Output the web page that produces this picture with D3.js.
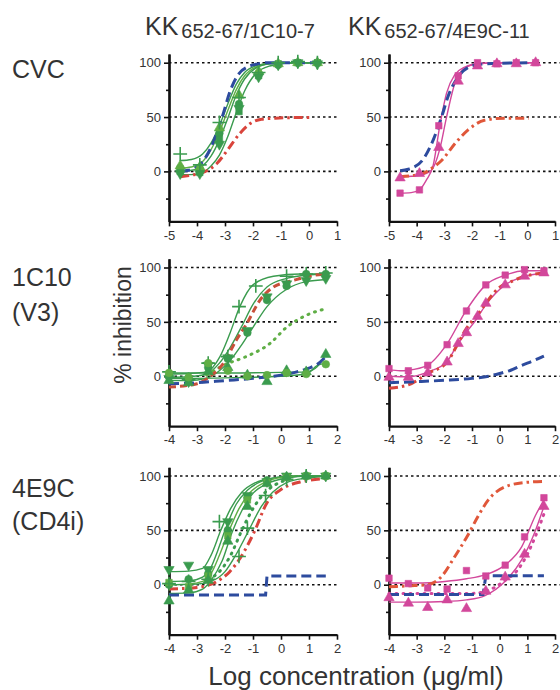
<!DOCTYPE html>
<html>
<head>
<meta charset="utf-8">
<script src="https://cdn.jsdelivr.net/npm/d3@7"></script>
<style>
  body { margin: 0; background: #fff; }
  svg text { font-family: "Liberation Sans", Arial, sans-serif; fill: #333; }
</style>
</head>
<body>
<div id="d3-container"></div>
<script>
/* CONSTANTS AND GLOBALS */
const width = 560,
  height = 690,
  colX = [[169, 337], [389, 555]],
  rowTop = [54, 258.8, 467.3],
  panelH = 167.4;

const blue = "#2d4b9e",
  red = "#d9443c",
  green = "#3a9b4e",
  lime = "#5fae45",
  magenta = "#d2479b";

/* TEXT AND TICKS */
const colTitleMain = ["KK", "KK"];
const colTitleSub = ["652-67/1C10-7", "652-67/4E9C-11"];
const rowLabels = [["CVC"], ["1C10", "(V3)"], ["4E9C", "(CD4i)"]];
const yAxisLabel = "% inhibition";
const xAxisLabel = "Log concentration (μg/ml)";
const xDomains = [[-5, 1], [-4, 2], [-4, 2]];
const xTicksRow1 = [-5, -4, -3, -2, -1, 0, 1];
const xTicksRow23 = [-4, -3, -2, -1, 0, 1, 2];
const yDomain = [-46, 108];
const yTicks = [100, 50, 0];
const yMinorTicks = [75, 25, -25];

/* DATA: CVC, KK652-67/1C10-7 */
const p1Blue = [[-4.6,0],[-4.3,1],[-3.9,6],[-3.5,22],[-3.1,50],[-2.8,75],[-2.5,90],[-2.2,96],[-1.9,98.5],[-1.5,100],[0.3,100]];
const p1Red = [[-4.6,-5],[-4.2,-3.5],[-3.7,0],[-3.3,7],[-2.9,20],[-2.5,34],[-2.1,44],[-1.7,48],[-1.2,49],[-0.5,49.5],[0.1,49.5]];
const p1Fit1 = [[-4.6,10],[-4.2,11],[-3.8,16],[-3.5,26],[-3.2,42],[-2.9,62],[-2.6,80],[-2.3,91],[-1.9,97],[-1.4,99.5],[-0.6,100],[0.3,100]];
const p1Fit2 = [[-4.6,3],[-4.2,4],[-3.8,9],[-3.5,20],[-3.2,36],[-2.9,56],[-2.6,75],[-2.3,88],[-1.9,96],[-1.4,99],[-0.6,100],[0.3,100]];
const p1Fit3 = [[-4.6,0],[-4.2,1],[-3.8,5],[-3.5,14],[-3.2,29],[-2.9,49],[-2.6,70],[-2.3,85],[-1.9,95],[-1.4,99],[-0.6,100],[0.3,100]];
const p1Fit4 = [[-4.6,-3],[-4.2,-3],[-3.8,-1],[-3.5,5],[-3.2,15],[-2.9,32],[-2.6,54],[-2.3,74],[-1.9,90],[-1.4,97],[-0.6,100],[0.3,100]];
const p1MarkCircle = [[-4.6,3],[-3.9,2],[-3.2,35],[-2.5,62],[-1.8,90],[-1.1,98],[-0.4,100],[0.3,100]];
const p1MarkSquare = [[-4.6,0],[-3.9,-1],[-3.2,30],[-2.5,55],[-1.8,88],[-1.1,99],[-0.4,100],[0.3,100]];
const p1MarkTri = [[-4.6,5],[-3.9,4],[-3.2,40],[-2.5,70],[-1.8,92],[-1.1,99],[-0.4,100],[0.3,100]];
const p1MarkPlus = [[-4.6,16],[-3.9,6],[-3.2,45],[-2.5,68],[-1.8,91],[-1.1,100],[-0.4,101],[0.3,100]];
const p1MarkInv = [[-4.6,-2],[-3.9,-2],[-3.2,25],[-2.5,58],[-1.8,87],[-1.1,98],[-0.4,100],[0.3,99]];

/* DATA: CVC, KK652-67/4E9C-11 */
const p2Blue = [[-4.6,0.5],[-4.3,2],[-3.8,10],[-3.4,29],[-3.1,50],[-2.85,70],[-2.5,87],[-2.0,97],[-1.5,99],[0.3,100]];
const p2Red = [[-4.6,-5],[-3.8,-2],[-3.45,3],[-3.1,10],[-2.6,26],[-2.15,38],[-1.55,47],[-0.8,49],[0.05,49]];
const p2FitA = [[-4.6,-20],[-4.2,-19.5],[-3.9,-17],[-3.65,-8],[-3.4,6],[-3.17,41],[-2.92,72],[-2.62,89],[-2.26,96],[-1.8,99],[-1.0,100],[0.3,100]];
const p2FitB = [[-4.6,-5],[-3.85,-3.5],[-3.47,1],[-3.17,20],[-2.92,50],[-2.62,81],[-2.26,95],[-1.8,99],[-1.0,100],[0.3,100]];
const p2MarkSquare = [[-4.6,-20],[-3.9,-17],[-3.2,42],[-2.5,88],[-1.8,100],[-1.1,99],[-0.4,100],[0.3,100]];
const p2MarkTri = [[-4.6,-6],[-3.9,-2],[-3.2,22],[-2.5,83],[-1.8,97],[-1.1,99],[-0.4,99],[0.3,100]];

/* DATA: 1C10 (V3), KK652-67/1C10-7 */
const p3Blue = [[-4,-7],[-3,-6],[-2,-4],[-1,-2],[0,1],[0.5,3.5],[1,7.5],[1.3,11],[1.6,18]];
const p3Red = [[-4,-10],[-3,-7],[-2.55,-0.5],[-2.05,12],[-1.6,33],[-1.23,48],[-0.75,70],[-0.27,82],[0.44,88],[1.0,92],[1.6,94]];
const p3Dotted = [[-2.65,1],[-2.05,10],[-1.25,18],[-0.4,30],[0.2,45],[0.9,56],[1.6,62]];
const p3Fit1 = [[-4,2],[-3.3,2.5],[-2.66,4],[-2.18,18],[-1.83,39],[-1.47,64],[-1.0,84],[-0.27,92],[0.68,94],[1.64,94]];
const p3Fit2 = [[-4,-1],[-3.3,-0.5],[-2.66,2],[-2.2,12],[-1.8,27],[-1.4,46],[-1.0,66],[-0.5,82],[0.2,90],[0.9,93],[1.64,94]];
const p3Fit3 = [[-4,-4],[-3.3,-4],[-2.66,-2],[-2.2,5],[-1.8,15],[-1.4,29],[-1.0,45],[-0.5,64],[0.2,80],[0.9,87],[1.64,89]];
const p3FitLow1 = [[-4,3],[-2,3],[0,3.5],[0.9,4],[1.3,9],[1.6,20]];
const p3FitLow2 = [[-4,-2],[-2,-1.5],[0,0],[0.9,2],[1.3,10],[1.6,12]];
const p3MarkPlus = [[-4,4],[-3.3,-3],[-2.6,12],[-1.9,18],[-1.5,64],[-0.9,83],[0.2,92],[0.9,94],[1.6,95]];
const p3MarkInv = [[-4,-2],[-3.3,-5],[-2.6,10],[-1.9,17],[-1.2,42],[-0.5,73],[0.2,85],[0.9,88],[1.6,90]];
const p3MarkCircle = [[-4,0],[-3.3,-2],[-2.6,8],[-1.9,16],[-1.2,40],[-0.5,70],[0.2,83],[0.9,94],[1.6,94]];
const p3MarkTri = [[-4,-4],[-3.3,-6],[-2.6,4],[-1.9,8],[-1.2,1],[-0.5,-5],[0.2,5],[0.9,4],[1.6,20]];
const p3MarkCircle2 = [[-4,3],[-3.3,-1],[-2.6,12],[-1.9,5],[-1.2,0],[-0.5,1],[0.2,3],[0.9,2],[1.6,11]];

/* DATA: 1C10 (V3), KK652-67/4E9C-11 */
const p4Blue = [[-4,-6],[-3,-5],[-2,-3.8],[-1,-2],[-0.4,0],[0,2.5],[0.4,5.5],[0.8,10],[1.2,14],[1.6,18.5]];
const p4Red = [[-4,-11],[-3.3,-8],[-2.6,2.5],[-1.9,13],[-1.55,28],[-1.25,42],[-0.76,58],[-0.04,81],[0.5,88],[0.93,92],[1.62,95]];
const p4FitA = [[-4,6],[-3.6,5],[-3.31,5.5],[-2.61,10],[-1.92,29],[-1.22,60],[-0.5,84],[0.2,93],[0.93,97],[1.62,97]];
const p4FitB = [[-4,0],[-3.31,-0.5],[-2.58,4],[-1.92,13],[-1.55,28],[-1.22,40],[-0.88,51],[-0.52,65],[0.2,84],[0.93,92],[1.62,95]];
const p4MarkSquare = [[-4,7],[-3.3,5],[-2.6,10],[-1.9,29],[-1.2,60],[-0.5,84],[0.2,93],[0.9,98],[1.6,97]];
const p4MarkTri = [[-4,-1],[-3.3,-1],[-2.6,3],[-1.9,13],[-1.5,30],[-1.2,40],[-0.8,55],[-0.5,67],[0.2,84],[0.9,92],[1.6,95]];

/* DATA: 4E9C (CD4i), KK652-67/1C10-7 */
const p5Blue = [[-4,-9.5],[-0.55,-9.5],[-0.5,8],[1.6,8]];
const p5Red = [[-4,-4],[-3.0,-2.5],[-2.3,2.8],[-1.83,12],[-1.35,29],[-0.93,50],[-0.51,75],[-0.03,87],[0.68,94.5],[1.58,97.5]];
const p5Fit1 = [[-4,12],[-3.3,12.5],[-2.8,15],[-2.5,27],[-2.15,50],[-1.8,70],[-1.4,85],[-0.9,94],[-0.3,98],[0.5,100],[1.6,100]];
const p5Fit2 = [[-4,3],[-3.3,3.5],[-2.8,7],[-2.5,16],[-2.25,32],[-2.0,50],[-1.6,74],[-1.2,87],[-0.7,95],[-0.1,99],[0.6,100],[1.6,100]];
const p5Fit3 = [[-4,0],[-3.3,0.5],[-2.8,3],[-2.5,10],[-2.2,27],[-1.85,50],[-1.5,70],[-1.1,85],[-0.6,94],[0,98.5],[0.8,100],[1.6,100]];
const p5Fit4 = [[-4,-8],[-3.3,-7.5],[-2.8,-4],[-2.5,4],[-2.1,22],[-1.75,48],[-1.4,68],[-1.0,84],[-0.5,93],[0.2,98],[1.0,100],[1.6,100]];
const p5Dotted = [[-2.6,5],[-2.2,12],[-1.8,27],[-1.4,50],[-1.0,70],[-0.6,84],[-0.2,92],[0.3,97]];
const p5Fit5 = [[-4,0],[-3,0.5],[-2.5,3],[-2.0,12],[-1.6,28],[-1.15,50],[-0.7,72],[-0.3,85],[0.2,94],[0.9,98],[1.6,99.5]];
const p5MarkInv = [[-4,14],[-3.3,18],[-2.6,14],[-1.9,58],[-1.2,82],[-0.5,95],[0.2,100],[0.9,100],[1.6,100]];
const p5MarkCircle = [[-4,0],[-3.3,5],[-2.6,10],[-1.9,50],[-1.2,80],[-0.5,96],[0.2,99],[0.9,100],[1.6,100]];
const p5MarkSquare = [[-4,2],[-3.3,-2],[-2.6,8],[-1.9,45],[-1.2,78],[-0.5,94],[0.2,99],[0.9,100],[1.6,100]];
const p5MarkTri = [[-4,-15],[-3.3,-5],[-2.6,4],[-1.9,40],[-1.2,72],[-0.5,93],[0.2,99],[0.9,100],[1.6,100]];
const p5MarkPlus = [[-4,1],[-3.3,3],[-2.6,5],[-2.2,58],[-1.5,26],[-1.2,52],[-0.55,82],[0.2,97],[0.9,100]];

/* DATA: 4E9C (CD4i), KK652-67/4E9C-11 */
const p6Blue = [[-4,-9],[-0.6,-9],[-0.5,8.3],[1.6,8.3]];
const p6Red = [[-4,-2],[-3.31,-1],[-2.59,0],[-2.1,7.6],[-1.62,26],[-1.14,46],[-0.78,63],[-0.41,78],[0.19,90],[0.92,94],[1.6,95]];
const p6FitA = [[-4,1.5],[-3,1.5],[-1.98,3],[-1.2,5.5],[-0.53,9],[0.19,18],[0.8,35],[1.28,63],[1.6,78]];
const p6FitB = [[-4,-16],[-3,-16],[-1.98,-15.5],[-1.2,-14],[-0.53,-10],[0.19,3],[0.8,23],[1.28,49],[1.6,72]];
const p6Dotted = [[-4,-8],[-3,-8],[-2,-8],[-1,-8],[-0.3,-4],[0.2,4],[0.6,12],[1.0,28],[1.3,45],[1.6,65]];
const p6MarkSquare = [[-4,6],[-3.3,1],[-2.6,-3],[-1.9,-4],[-1.2,13],[-0.5,8],[0.2,18],[0.9,44],[1.6,80]];
const p6MarkTri = [[-4,-12],[-3.3,-17],[-2.6,-21],[-1.9,-14],[-1.2,-22],[-0.5,-6],[0.2,7],[0.9,28],[1.6,72]];

// panel table built from the arrays above
const panels = [
  { row: 0, col: 0,
    lines: [
      { data: p1Fit1, style: "fit", color: green }, { data: p1Fit2, style: "fit", color: lime },
      { data: p1Fit3, style: "fit", color: green }, { data: p1Fit4, style: "fit", color: green },
      { data: p1Red, style: "dashdot", color: red }, { data: p1Blue, style: "dash", color: blue }
    ],
    marks: [
      { data: p1MarkCircle, shape: "circle", color: green }, { data: p1MarkSquare, shape: "square", color: green },
      { data: p1MarkTri, shape: "triangle", color: lime }, { data: p1MarkPlus, shape: "plus", color: green },
      { data: p1MarkInv, shape: "inv", color: green }
    ] },
  { row: 0, col: 1,
    lines: [
      { data: p2FitA, style: "fit", color: magenta }, { data: p2FitB, style: "fit", color: magenta },
      { data: p2Red, style: "dashdot", color: "#e0573a" }, { data: p2Blue, style: "dash", color: blue }
    ],
    marks: [
      { data: p2MarkSquare, shape: "square", color: magenta }, { data: p2MarkTri, shape: "triangle", color: magenta }
    ] },
  { row: 1, col: 0,
    lines: [
      { data: p3Fit1, style: "fit", color: green }, { data: p3Fit2, style: "fit", color: green },
      { data: p3Fit3, style: "fit", color: green }, { data: p3FitLow1, style: "fit", color: green },
      { data: p3FitLow2, style: "fit", color: green }, { data: p3Dotted, style: "dot", color: lime },
      { data: p3Red, style: "shortdash", color: "#c8503a" }, { data: p3Blue, style: "dash", color: blue }
    ],
    marks: [
      { data: p3MarkPlus, shape: "plus", color: green }, { data: p3MarkInv, shape: "inv", color: green },
      { data: p3MarkCircle, shape: "circle", color: green }, { data: p3MarkTri, shape: "triangle", color: green },
      { data: p3MarkCircle2, shape: "circle", color: lime }
    ] },
  { row: 1, col: 1,
    lines: [
      { data: p4FitA, style: "fit", color: magenta }, { data: p4FitB, style: "fit", color: magenta },
      { data: p4Red, style: "dashdot", color: red }, { data: p4Blue, style: "dash", color: blue }
    ],
    marks: [
      { data: p4MarkSquare, shape: "square", color: magenta }, { data: p4MarkTri, shape: "triangle", color: magenta }
    ] },
  { row: 2, col: 0,
    lines: [
      { data: p5Fit1, style: "fit", color: green }, { data: p5Fit2, style: "fit", color: green },
      { data: p5Fit3, style: "fit", color: lime }, { data: p5Fit4, style: "fit", color: green },
      { data: p5Fit5, style: "fit", color: green }, { data: p5Dotted, style: "dot", color: green },
      { data: p5Red, style: "dashdot", color: red }, { data: p5Blue, style: "dash", color: blue, linear: true }
    ],
    marks: [
      { data: p5MarkInv, shape: "inv", color: green }, { data: p5MarkCircle, shape: "circle", color: green },
      { data: p5MarkSquare, shape: "square", color: lime }, { data: p5MarkTri, shape: "triangle", color: green },
      { data: p5MarkPlus, shape: "plus", color: green }
    ] },
  { row: 2, col: 1,
    lines: [
      { data: p6FitA, style: "fit", color: magenta }, { data: p6FitB, style: "fit", color: magenta },
      { data: p6Dotted, style: "dot", color: magenta },
      { data: p6Red, style: "dashdot", color: "#e0573a" }, { data: p6Blue, style: "dash", color: blue, linear: true }
    ],
    marks: [
      { data: p6MarkSquare, shape: "square", color: magenta }, { data: p6MarkTri, shape: "triangle", color: magenta }
    ] }
];

const lineStyles = {
  fit: { w: 1.4, dash: null },
  dash: { w: 3, dash: "10,5" },
  shortdash: { w: 3, dash: "7,4" },
  dashdot: { w: 3, dash: "9,4,2.5,4" },
  dot: { w: 3, dash: "1,6" }
};

const symbols = {
  circle: d3.symbol(d3.symbolCircle, 46),
  square: d3.symbol(d3.symbolSquare, 42),
  triangle: d3.symbol(d3.symbolTriangle, 46),
  inv: d3.symbol(d3.symbolTriangle, 46),
  plus: d3.symbol(d3.symbolPlus, 64)
};

let svg;

init();

function init() {
  svg = d3.select("#d3-container")
    .append("svg")
    .attr("width", width)
    .attr("height", height)
    .style("background", "#fff");

  // column titles
  colTitleMain.forEach((t, i) => {
    const x = [145, 348][i];
    const title = svg.append("text").attr("x", x).attr("y", 35);
    title.append("tspan").attr("font-size", 25).text(t);
    title.append("tspan").attr("font-size", 20).attr("dx", 3).attr("dy", 3).text(colTitleSub[i]);
  });

  // row labels
  const rowBase = [[78], [286, 321], [497, 530]];
  rowLabels.forEach((lines, r) => {
    lines.forEach((t, k) => {
      svg.append("text").attr("x", 12).attr("y", rowBase[r][k]).attr("font-size", 25).text(t);
    });
  });

  // axis titles
  svg.append("text")
    .attr("transform", "translate(131,325) rotate(-90)")
    .attr("text-anchor", "middle")
    .attr("font-size", 23)
    .text(yAxisLabel);

  svg.append("text")
    .attr("x", 356).attr("y", 685)
    .attr("text-anchor", "middle")
    .attr("font-size", 26)
    .text(xAxisLabel);

  panels.forEach(drawPanel);
}

function drawPanel(p) {
  const [x0, x1] = colX[p.col];
  const top = rowTop[p.row];
  const xScale = d3.scaleLinear().domain(xDomains[p.row]).range([x0, x1]);
  const yScale = d3.scaleLinear().domain(yDomain).range([top + panelH, top]);
  const g = svg.append("g");

  // dotted reference lines
  g.selectAll("line.grid")
    .data(yTicks)
    .join("line")
    .attr("class", "grid")
    .attr("x1", x0).attr("x2", p.col === 0 ? x1 + 2 : width)
    .attr("y1", d => yScale(d)).attr("y2", d => yScale(d))
    .attr("stroke", "#111")
    .attr("stroke-width", 1.6)
    .attr("stroke-dasharray", "2.5,3");

  // axes
  const xAxis = d3.axisBottom(xScale)
    .tickValues(p.row === 0 ? xTicksRow1 : xTicksRow23)
    .tickSize(5).tickSizeOuter(0).tickPadding(4)
    .tickFormat(d => String(d));
  const yAxis = d3.axisLeft(yScale)
    .tickValues(yTicks)
    .tickSize(5).tickSizeOuter(0).tickPadding(3)
    .tickFormat(d => String(d));
  const yMinor = d3.axisLeft(yScale)
    .tickValues(yMinorTicks)
    .tickSize(3).tickSizeOuter(0)
    .tickFormat("");

  const xg = g.append("g").attr("transform", `translate(0,${top + panelH})`).call(xAxis);
  const yg = g.append("g").attr("transform", `translate(${x0},0)`).call(yAxis);
  const ymg = g.append("g").attr("transform", `translate(${x0},0)`).call(yMinor);
  [xg, yg, ymg].forEach(a => {
    a.select(".domain").attr("stroke", "#111").attr("stroke-width", 2.2);
    a.selectAll(".tick line").attr("stroke", "#111").attr("stroke-width", 1.6);
    a.selectAll(".tick text")
      .attr("font-family", "Liberation Sans, Arial, sans-serif")
      .attr("font-size", 13)
      .attr("fill", "#333");
  });

  // curves
  p.lines.forEach(l => {
    const st = lineStyles[l.style];
    const line = d3.line()
      .x(d => xScale(d[0]))
      .y(d => yScale(d[1]))
      .curve(l.linear ? d3.curveLinear : d3.curveMonotoneX);
    g.append("path")
      .attr("d", line(l.data))
      .attr("fill", "none")
      .attr("stroke", l.color)
      .attr("stroke-width", st.w)
      .attr("stroke-linecap", l.style === "dot" ? "round" : "butt")
      .attr("stroke-dasharray", st.dash);
  });

  // markers
  p.marks.forEach(m => {
    const isStroke = m.shape === "plus";
    g.selectAll(null)
      .data(m.data)
      .join("path")
      .attr("transform", d => `translate(${xScale(d[0])},${yScale(d[1])})` + (m.shape === "inv" ? " rotate(180)" : ""))
      .attr("d", symbols[m.shape])
      .attr("fill", isStroke ? "none" : m.color)
      .attr("stroke", m.color)
      .attr("stroke-width", isStroke ? 1.6 : 0.6);
  });
}
</script>
</body>
</html>
